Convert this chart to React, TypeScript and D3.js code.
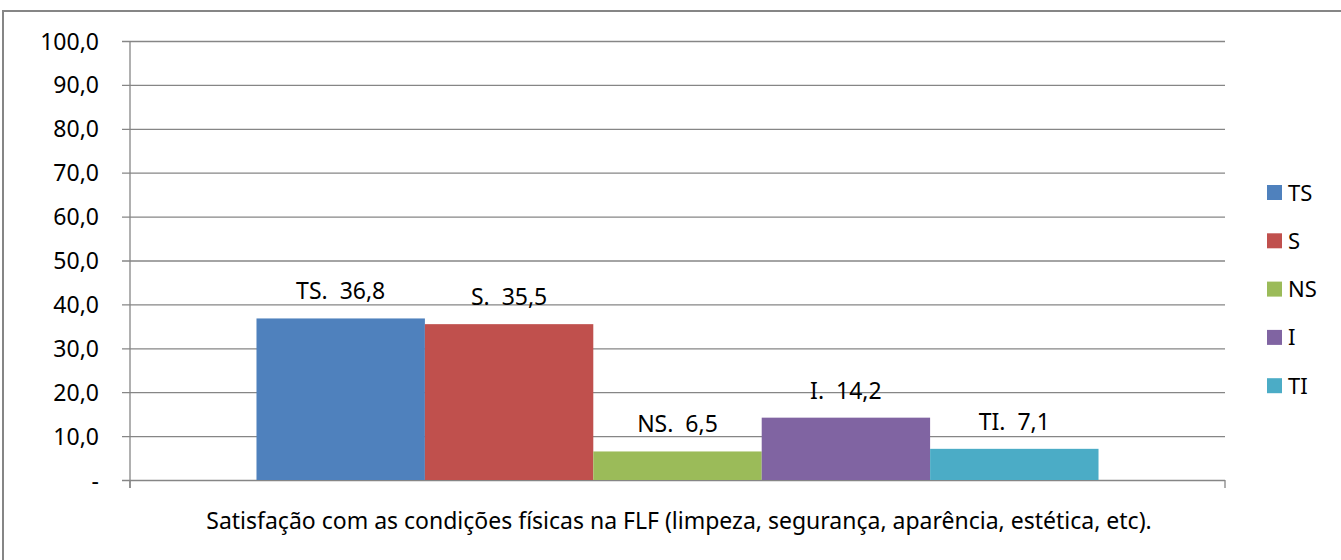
import { useEffect, useRef } from 'react';
import * as d3 from 'd3';

const category = 'Satisfação com as condições físicas na FLF (limpeza, segurança, aparência, estética, etc).';
const seriesNames = ['TS', 'S', 'NS', 'I', 'TI'];
const seriesValues = [36.8, 35.5, 6.5, 14.2, 7.1];
const seriesColors = ['#4f81bd', '#c0504d', '#9bbb59', '#8064a2', '#4bacc6'];
const yTicks = [0, 10, 20, 30, 40, 50, 60, 70, 80, 90, 100];

const W = 1341;
const H = 560;
const FONT = '"Noto Sans", "Open Sans", sans-serif';

export default function App() {
	const svgRef = useRef<SVGSVGElement>(null);

	useEffect(() => {
		if (!svgRef.current) return;
		const svg = d3.select(svgRef.current);
		svg.selectAll('*').remove();

		const plot = { left: 130, right: 1225, top: 41, bottom: 480 };
		const gridColor = '#868686';

		// outer chart border (runs off the right/bottom edge)
		svg
			.append('rect')
			.attr('x', 3)
			.attr('y', 11)
			.attr('width', W + 20)
			.attr('height', H + 20)
			.attr('fill', 'white')
			.attr('stroke', gridColor)
			.attr('stroke-width', 2);

		const yScale = d3.scaleLinear().domain([0, 100]).range([plot.bottom, plot.top]);

		const xGroup = d3.scaleBand<string>().domain([category]).range([plot.left, plot.right]).padding(0.1306);
		const xSeries = d3.scaleBand<string>().domain(seriesNames).range([0, xGroup.bandwidth()]);

		// grid lines + y tick marks
		svg
			.append('g')
			.attr('transform', `translate(${plot.left},0)`)
			.call(
				d3
					.axisLeft(yScale)
					.tickValues(yTicks)
					.tickSize(8)
					.tickFormat(() => '')
			)
			.call((g) => g.select('.domain').remove())
			.call((g) =>
				g
					.selectAll('.tick line')
					.attr('x1', plot.right - plot.left)
					.attr('x2', -8)
					.attr('stroke', gridColor)
					.attr('stroke-width', 1.3)
			);

		// y tick labels
		svg
			.append('g')
			.selectAll('text')
			.data(yTicks)
			.enter()
			.append('text')
			.attr('x', 99)
			.attr('y', (d) => yScale(d) + 8.5)
			.attr('text-anchor', 'end')
			.attr('font-family', FONT)
			.attr('font-size', 23)
			.attr('fill', '#000')
			.text((d) => (d === 0 ? '-' : d3.format('.1f')(d).replace('.', ',')));

		// y axis line
		svg
			.append('line')
			.attr('x1', plot.left)
			.attr('x2', plot.left)
			.attr('y1', plot.top)
			.attr('y2', plot.bottom + 8)
			.attr('stroke', gridColor)
			.attr('stroke-width', 1.3);

		// x axis end ticks
		svg
			.selectAll('.xtick')
			.data([plot.left, plot.right])
			.enter()
			.append('line')
			.attr('x1', (d) => d)
			.attr('x2', (d) => d)
			.attr('y1', plot.bottom)
			.attr('y2', plot.bottom + 8)
			.attr('stroke', gridColor)
			.attr('stroke-width', 1.3);

		const x0 = xGroup(category) || 0;

		// bars
		svg
			.append('g')
			.selectAll('rect')
			.data(seriesNames)
			.enter()
			.append('rect')
			.attr('x', (d) => x0 + (xSeries(d) || 0))
			.attr('y', (d, i) => yScale(seriesValues[i]))
			.attr('width', xSeries.bandwidth())
			.attr('height', (d, i) => yScale(0) - yScale(seriesValues[i]))
			.attr('fill', (d, i) => seriesColors[i]);

		// bar labels
		svg
			.append('g')
			.selectAll('text')
			.data(seriesNames)
			.enter()
			.append('text')
			.attr('x', (d) => x0 + (xSeries(d) || 0) + xSeries.bandwidth() / 2)
			.attr('y', (d, i) => yScale(seriesValues[i]) - 19)
			.attr('text-anchor', 'middle')
			.attr('font-family', FONT)
			.attr('font-size', 23)
			.attr('fill', '#000')
			.text((d, i) => `${d}.\u00a0 ${d3.format('.1f')(seriesValues[i]).replace('.', ',')}`);

		// category label
		svg
			.append('text')
			.attr('x', 679)
			.attr('y', 529)
			.attr('text-anchor', 'middle')
			.attr('font-family', FONT)
			.attr('font-size', 23)
			.attr('fill', '#000')
			.text(category);

		// legend
		const legend = svg
			.append('g')
			.selectAll('g')
			.data(seriesNames)
			.enter()
			.append('g')
			.attr('transform', (d, i) => `translate(1267,${185 + i * 48.3})`);

		legend
			.append('rect')
			.attr('width', 15)
			.attr('height', 15)
			.attr('fill', (d, i) => seriesColors[i]);

		legend
			.append('text')
			.attr('x', 21)
			.attr('y', 15.5)
			.attr('font-family', FONT)
			.attr('font-size', 22)
			.attr('fill', '#000')
			.text((d) => d);
	}, []);

	return (
		<div style={{ position: 'absolute', left: 0, top: 0, width: W, height: H, overflow: 'hidden' }}>
			<svg ref={svgRef} width={W} height={H} style={{ display: 'block' }}></svg>
		</div>
	);
}
